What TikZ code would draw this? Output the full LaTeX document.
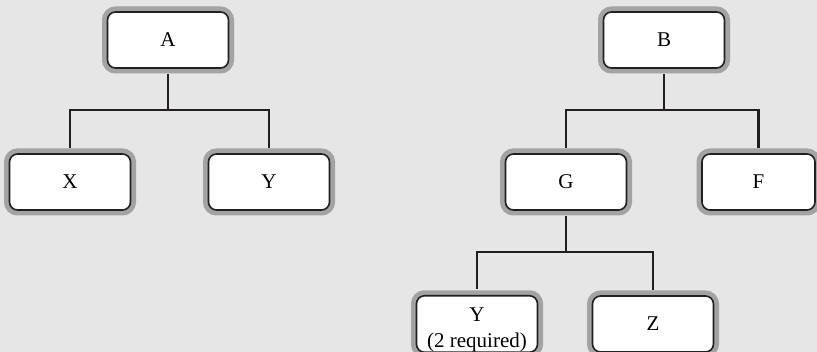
\documentclass[tikz,border=0pt]{standalone}
\usepackage{fontspec}
\setmainfont{Liberation Serif}
\definecolor{bggray}{HTML}{E6E6E6}
\definecolor{halogray}{HTML}{A3A3A3}
\definecolor{inkblack}{HTML}{231F20}
\tikzset{
    part/.style = {
        rectangle, draw=inkblack, line width=1.6pt, fill=white,
        rounded corners=8pt,
        minimum width=121pt,
        minimum height=56pt,
        inner sep=0pt, align=center,
        font=\fontsize{21}{26}\selectfont,
        preaction={draw=halogray, line width=11pt}
    },
    link/.style = {
        draw=inkblack, line width=2.6pt
    }
}
\begin{document}
\begin{tikzpicture}[x=1pt, y=-1pt]

\fill [bggray] (0,0) rectangle (817,352);
\useasboundingbox (0,0) rectangle (817,352);

% left tree
\node (A) [part] at (168,40) {A};
\node (X) [part] at (70,182) {X};
\node (YA) [part] at (269,182) {Y};
\coordinate (jA) at (168,110);

% right tree
\node (B) [part] at (664,40) {B};
\node (G) [part] at (566,182) {G};
\node (F) [part, minimum width=113pt] at (758.5,182) {F};
\node (YG) [part] at (477,324) {\rule{0pt}{26pt}Y\\(2 required)};
\node (Z) [part] at (653,324) {Z};
\coordinate (jB) at (664,110);
\coordinate (jG) at (566,252);

\draw [link, shorten <=5.5pt] (A) -- (jA);
\draw [link, shorten >=5.5pt] (jA) -| (X);
\draw [link, shorten >=5.5pt] (jA) -| (YA);
\draw [link, shorten <=5.5pt] (B) -- (jB);
\draw [link, shorten >=5.5pt] (jB) -| (G);
\draw [link, shorten >=5.5pt] (jB) -| (F);
\draw [link, shorten <=5.5pt] (G) -- (jG);
\draw [link, shorten >=5.5pt] (jG) -| (YG);
\draw [link, shorten >=5.5pt] (jG) -| (Z);

\end{tikzpicture}
\end{document}
